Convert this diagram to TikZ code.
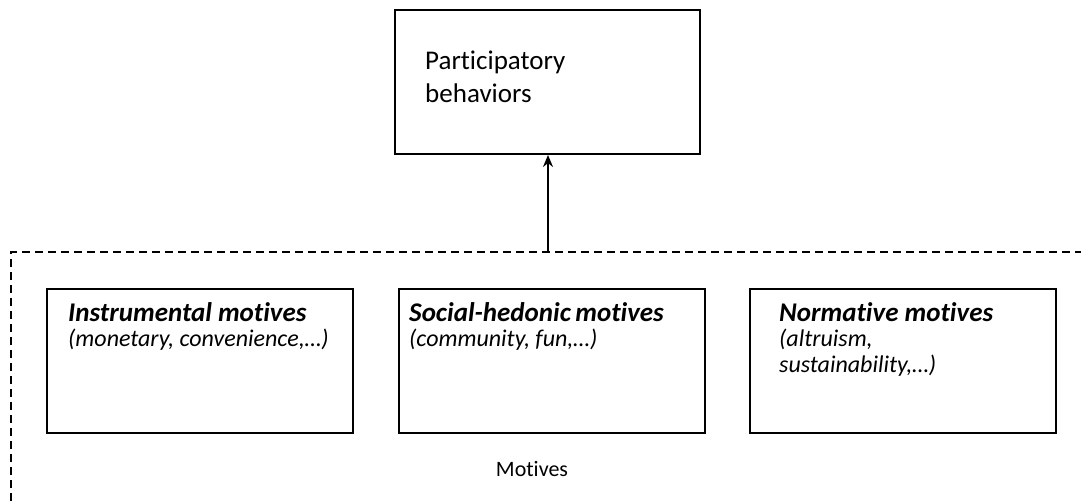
\documentclass[tikz,border=0pt]{standalone}
\usepackage{fontspec}
\setmainfont[Ligatures=NoCommon]{Carlito}
\usetikzlibrary{arrows.meta,calc}
\tikzset{
  box/.style={draw=black,line width=2pt,minimum width=306pt,minimum height=144pt,inner sep=0pt,anchor=north west},
  topbox/.style={draw=black,line width=2pt,minimum width=305pt,minimum height=144pt,inner sep=0pt,anchor=north west},
  title/.style={anchor=base west,inner sep=0pt,font=\fontsize{27}{30}\selectfont\bfseries\itshape},
  sub/.style={anchor=base west,inner sep=0pt,font=\fontsize{24}{26}\selectfont\itshape},
  plain/.style={anchor=base west,inner sep=0pt,font=\fontsize{27}{33}\selectfont},
  dashframe/.style={line width=1.5pt,dash pattern=on 8pt off 5pt},
  link/.style={line width=1.6pt,-{Stealth[length=12pt,width=10pt]}}
}
\begin{document}
\begin{tikzpicture}[x=1pt,y=-1pt]
\useasboundingbox (0,0) rectangle (1081,501);
\fill[white] (0,0) rectangle (1081,501);
% top box
\node[topbox] (pb) at (394,9) {};
\node[plain] (pbt1) at (425,69) {Participatory};
\node[plain] (pbt2) at (425,102) {behaviors};
% dashed frame
\coordinate (fbl) at (11,501);
\coordinate (ftl) at (11,252);
\coordinate (ftr) at (1081,252);
\draw[dashframe] (fbl) -- (ftl) -- (ftr);
\coordinate (arrfoot) at (548,252);
\draw[link] (arrfoot) -- (arrfoot |- pb.south);
% motive boxes
\node[box] (b1) at (46,288) {};
\node[box] (b2) at (398,288) {};
\node[box] (b3) at (749,288) {};
\node[title] (t1) at (68,321) {Instrumental motives};
\node[sub] (s1) at (68,346) {(monetary, convenience,…)};
\node[title] (t2) at (409,321) {Social-hedonic\,motives};
\node[sub] (s2) at (409,346) {(community, fun,…)};
\node[title] (t3) at (779,321) {Normative motives};
\node[sub] (s3a) at (779,346) {(altruism,};
\node[sub] (s3b) at (779,372) {sustainability,…)};
\node[anchor=base,inner sep=0pt,font=\fontsize{22}{26}\selectfont] (mot) at (532,476) {Motives};
\end{tikzpicture}
\end{document}
